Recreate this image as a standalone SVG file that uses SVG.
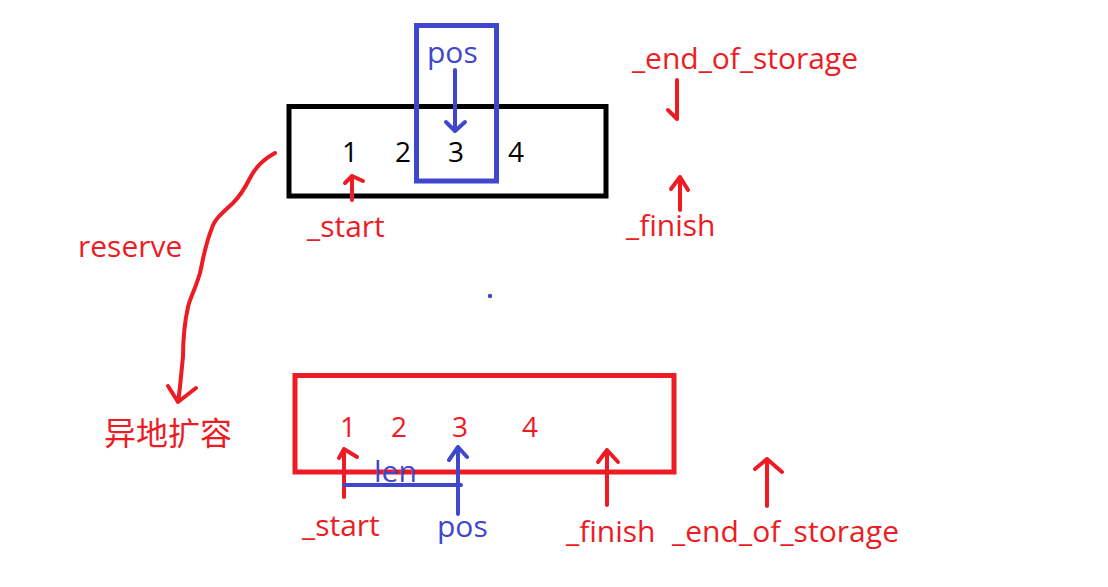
<svg xmlns="http://www.w3.org/2000/svg" width="1108" height="587" viewBox="0 0 1108 587">
<style>
text{font-family:"Open Sans","Noto Sans","Noto Sans CJK SC",sans-serif;font-size:30px}
.d{font-size:28px}
.r{fill:#ED1C24}.b{fill:#3F48CC}.k{fill:#000}
.ls{fill:none;stroke-width:4;stroke-linecap:round;stroke-linejoin:round}
.lr{stroke:#ED1C24}.lb{stroke:#3F48CC}
</style>
<rect width="1108" height="587" fill="#fff"/>
<g id="top-array">
<rect x="289" y="106.5" width="317" height="89.5" fill="none" stroke="#000" stroke-width="5"/>
<text class="k d" x="350" y="162" text-anchor="middle">1</text>
<text class="k d" x="403" y="162" text-anchor="middle">2</text>
<text class="k d" x="456" y="162" text-anchor="middle">3</text>
<text class="k d" x="516" y="162" text-anchor="middle">4</text>
</g>
<g id="pos-box">
<rect x="416.5" y="25.5" width="80" height="155.5" fill="none" stroke="#3F48CC" stroke-width="5"/>
<text class="b" x="427" y="63">pos</text>
</g>
<g id="labels-top">
<text class="r" x="632" y="69" textLength="226">_end_of_storage</text>
<text class="r" x="307" y="237">_start</text>
<text class="r" x="626" y="236">_finish</text>
<text class="r" x="78" y="257">reserve</text>
</g>
<g id="bottom-array">
<rect x="295" y="375.5" width="379" height="96.5" fill="none" stroke="#ED1C24" stroke-width="5"/>
<text class="r d" x="348" y="437" text-anchor="middle">1</text>
<text class="r d" x="399" y="437" text-anchor="middle">2</text>
<text class="r d" x="460" y="437" text-anchor="middle">3</text>
<text class="r d" x="530" y="437" text-anchor="middle">4</text>
</g>
<g id="labels-bottom">
<text class="r" x="104" y="445" style="font-size:32px">异地扩容</text>
<text class="b" x="374" y="482">len</text>
<text class="r" x="302" y="536">_start</text>
<text class="b" x="437" y="537">pos</text>
<text class="r" x="566" y="542">_finish</text>
<text class="r" x="672" y="542" textLength="227">_end_of_storage</text>
</g>
<g id="connectors">
<path class="ls lb" d="M455 70 V130 M446 122 L455 131 L465 122"/>
<path class="ls lr" d="M352 200 V176 M345 183 L352 176 L363 181"/>
<path class="ls lr" d="M677 80 V118 M668 110 L677 119"/>
<path class="ls lr" d="M680 210 V177 M671 189 L680 177 L688 190"/>
<path class="ls lr" d="M275 153 C262 160 255 168 250 178 C244 190 238 198 233 203 C222 213 214 220 212 228 C205 245 203 260 200 273 C195 290 190 298 188 307 C184 325 183 340 183 357 C181 375 180 390 178 402 M168 386 L178 402 L196 388"/>
<path class="ls lr" d="M344 497 V449 M339 458 L344 449 L357 457"/>
<path class="ls lb" d="M458 514 V447 M449 460 L458 447 L467 457"/>
<path class="ls lb" d="M344 485 H461"/>
<path class="ls lr" d="M607 505 V450 M598 462 L607 450 L618 462"/>
<path class="ls lr" d="M767 506 V459 M755 469 L767 459 L782 472"/>
<circle cx="490" cy="296" r="2.2" fill="#3F48CC"/>
</g>
</svg>
